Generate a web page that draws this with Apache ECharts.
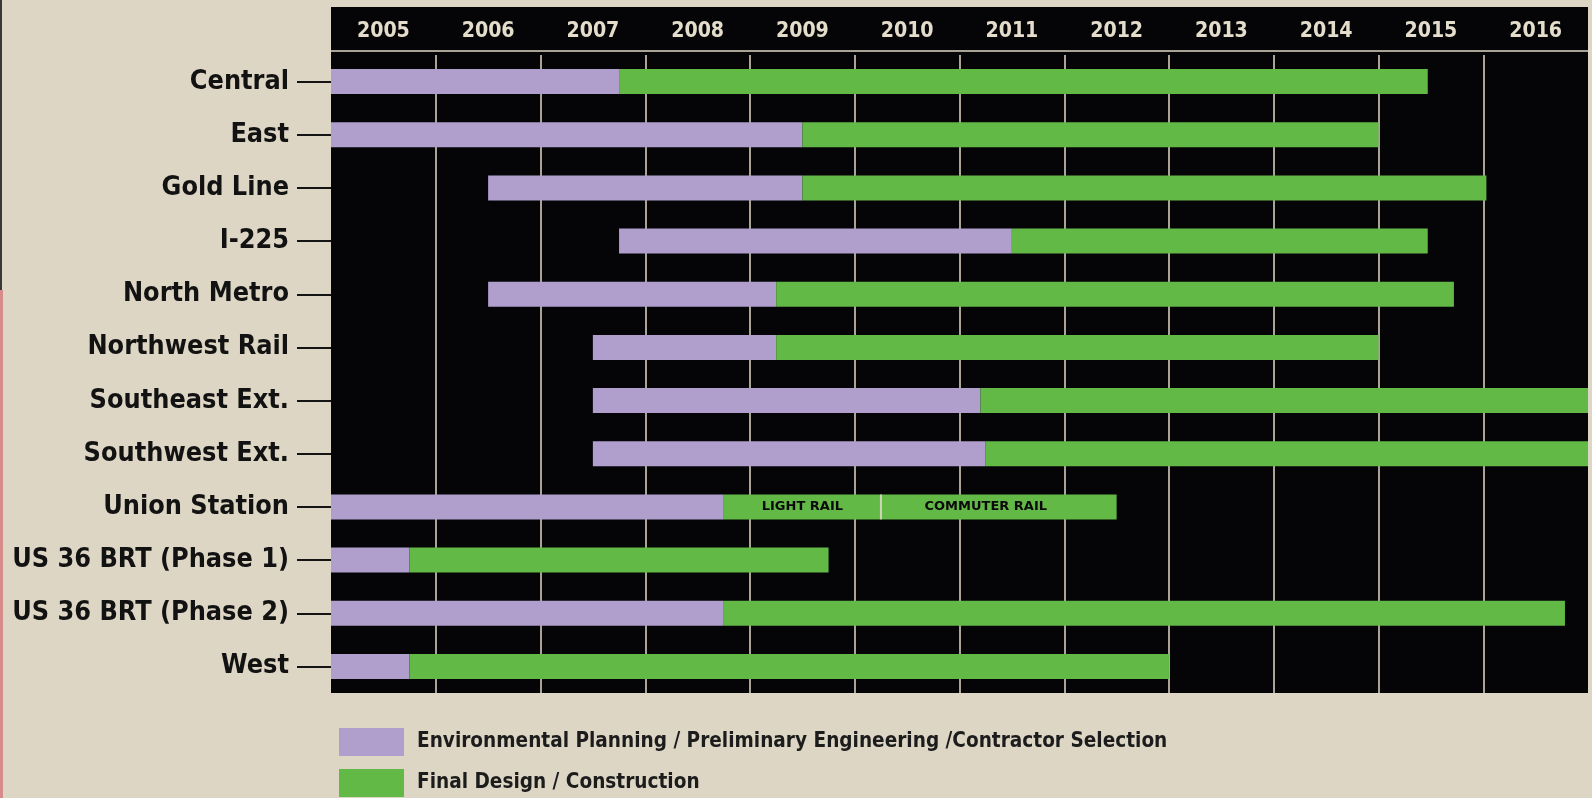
<!DOCTYPE html>
<html>
<head>
<meta charset="utf-8">
<script src="https://cdn.jsdelivr.net/npm/echarts@6/dist/echarts.min.js"></script>
<style>
html,body{margin:0;padding:0;background:#ddd6c4;}
#chart{width:1592px;height:798px;}
</style>
</head>
<body>
<div id="chart"></div>
<script>
// ---- data ----
const projects = ['Central','East','Gold Line','I-225','North Metro','Northwest Rail','Southeast Ext.','Southwest Ext.','Union Station','US 36 BRT (Phase 1)','US 36 BRT (Phase 2)','West'];
const planningStart     = [2005, 2005, 2006.5, 2007.75, 2006.5, 2007.5, 2007.5, 2007.5, 2005, 2005, 2005, 2005];
const constructionStart = [2007.75, 2009.5, 2009.5, 2011.5, 2009.25, 2009.25, 2011.2, 2011.25, 2008.75, 2005.75, 2008.75, 2005.75];
const completion        = [2015.47, 2015, 2016.03, 2015.47, 2015.72, 2015, 2017, 2017, 2012.5, 2009.75, 2016.78, 2013];
const years = ['2005','2006','2007','2008','2009','2010','2011','2012','2013','2014','2015','2016'];
const unionProject = 'Union Station';
const unionSplitYear = 2010.25;
const unionSegmentLabels = ['LIGHT RAIL','COMMUTER RAIL'];
const phaseNames = ['Environmental Planning / Preliminary Engineering /Contractor Selection','Final Design / Construction'];

// ---- font selection ----
function fontAvailable(name){
  const ctx = document.createElement('canvas').getContext('2d');
  const probe = 'mmmmmmmmmmlli1WQ@#2005';
  for (const base of ['monospace','serif']) {
    ctx.font = 'bold 72px ' + base; const w0 = ctx.measureText(probe).width;
    ctx.font = 'bold 72px "' + name + '", ' + base; const w1 = ctx.measureText(probe).width;
    if (Math.abs(w0 - w1) > 0.5) return true;
  }
  return false;
}
const candidates = ['Liberation Sans Narrow','DejaVu Sans Condensed','Roboto Condensed','Noto Sans Condensed','Open Sans Condensed','Arial Narrow','Liberation Sans'];
let fam = 'sans-serif';
for (const c of candidates) { if (fontAvailable(c)) { fam = c; break; } }
function textWidth(t, size, family){
  const ctx = document.createElement('canvas').getContext('2d');
  ctx.font = 'bold ' + size + 'px "' + family + '", sans-serif';
  return ctx.measureText(t).width;
}
function fitSize(t, target, maxSize){
  return Math.min(maxSize, target / (textWidth(t, 100, fam) / 100));
}
const catSize = fitSize('US 36 BRT (Phase 2)', 277, 34);
const yearSize = fitSize('2005', 53, 28);
const legendSize = fitSize(phaseNames[0], 751, 26);

// ---- build series data ----
const unionIdx = projects.indexOf(unionProject);
const offsetData = planningStart.slice();
const planningData = planningStart.map((s, i) => +(constructionStart[i] - s).toFixed(3));
const constructionData = constructionStart.map((s, i) => {
  if (i === unionIdx) {
    return { value: +(unionSplitYear - s).toFixed(3),
      label: { show: true, formatter: unionSegmentLabels[0] } };
  }
  return +(completion[i] - s).toFixed(3);
});
const commuterData = projects.map((p, i) => i === unionIdx
  ? { value: +(completion[i] - unionSplitYear).toFixed(3),
      label: { show: true, formatter: unionSegmentLabels[1], offset: [-13, 0] } }
  : '-');

const purple = '#b09ecd';
const green = '#63b946';
const segLabel = { show: false, position: 'inside', color: '#0a0a0a', fontFamily: 'DejaVu Sans', fontWeight: 900, fontSize: 13 };

const option = {
  backgroundColor: '#ddd6c4',
  animation: false,
  grid: { left: 331, right: 4, top: 55, bottom: 105 },
  graphic: [
    { type: 'rect', z: -1, shape: { x: 331, y: 7, width: 1257, height: 686 }, style: { fill: '#050508' } },
    { type: 'rect', z: -1, z2: 5, shape: { x: 331, y: 50, width: 1257, height: 2 }, style: { fill: '#a9a395' } },
    { type: 'rect', shape: { x: 0, y: 0, width: 2, height: 290 }, style: { fill: '#3a3836' } },
    { type: 'rect', shape: { x: 0, y: 290, width: 3, height: 508 }, style: { fill: '#d68a89' } }
  ],
  xAxis: [
    { type: 'value', position: 'top', min: 2005, max: 2017, interval: 1,
      axisLabel: { show: false }, axisLine: { show: false }, axisTick: { show: false },
      splitLine: { show: true, showMinLine: false, showMaxLine: false, lineStyle: { color: '#aaa496', width: 2 } } },
    { type: 'category', position: 'top', data: years, boundaryGap: true,
      axisLine: { show: false }, axisTick: { show: false }, splitLine: { show: false },
      axisLabel: { color: '#e4ddcb', fontFamily: fam, fontWeight: 'bold', fontSize: yearSize, margin: 24, verticalAlign: 'middle' } }
  ],
  yAxis: {
    type: 'category', data: projects, inverse: true,
    axisLine: { show: false },
    axisTick: { show: true, alignWithLabel: true, length: 34, lineStyle: { color: '#141414', width: 2 } },
    axisLabel: { margin: 42, color: '#121212', fontFamily: fam, fontWeight: 'bold', fontSize: catSize },
    splitLine: { show: false }
  },
  legend: {
    data: phaseNames, orient: 'vertical', left: 339, top: 728, padding: 0,
    itemWidth: 65, itemHeight: 28, itemGap: 13, icon: 'rect', selectedMode: false,
    textStyle: { color: '#1c1c1c', fontFamily: fam, fontWeight: 'bold', fontSize: legendSize, padding: [0, 0, 0, 8] }
  },
  series: [
    { type: 'bar', name: 'offset', stack: 'timeline', data: offsetData, barWidth: 25, silent: true,
      itemStyle: { color: 'rgba(0,0,0,0)' } },
    { type: 'bar', name: phaseNames[0], stack: 'timeline', data: planningData, barWidth: 25,
      itemStyle: { color: purple } },
    { type: 'bar', name: phaseNames[1], stack: 'timeline', data: constructionData, barWidth: 25,
      itemStyle: { color: green }, label: segLabel },
    { type: 'bar', name: 'Commuter Rail', stack: 'timeline', data: commuterData, barWidth: 25,
      itemStyle: { color: green }, label: segLabel },
    { type: 'scatter', name: 'divider', z: 5, symbol: 'rect', symbolSize: [2, 25], silent: true,
      data: [[unionSplitYear, unionProject]], itemStyle: { color: '#e8e2d0' } }
  ]
};

const chart = echarts.init(document.getElementById('chart'), null, { renderer: 'canvas' });
chart.setOption(option);
</script>
</body>
</html>
